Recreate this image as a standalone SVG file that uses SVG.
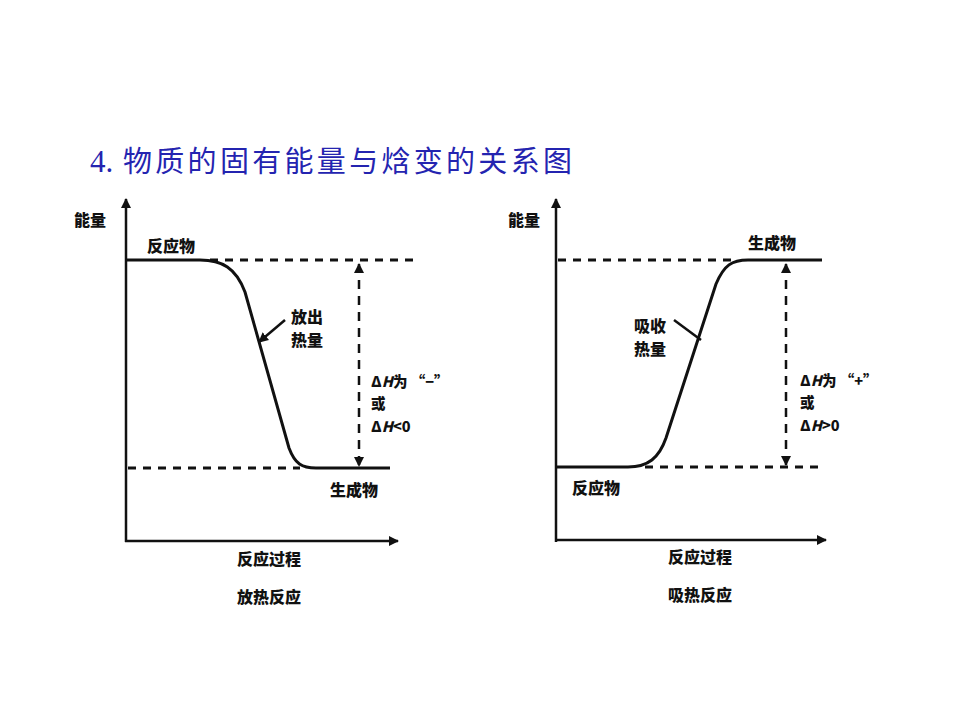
<svg xmlns="http://www.w3.org/2000/svg" width="960" height="720" viewBox="0 0 960 720">
<defs>
<style>
.lbl{font-family:"Noto Sans CJK SC","Liberation Sans",sans-serif;font-size:16px;font-weight:900;fill:#111}
.dh{font-size:14.5px}
.it{font-style:italic}
.ax{stroke:#111;stroke-width:2.5;fill:none}
.cv{stroke:#111;stroke-width:3;fill:none}
.ds{stroke:#111;stroke-width:3;fill:none;stroke-dasharray:8 7}
.vd{stroke:#111;stroke-width:2.5;fill:none;stroke-dasharray:9 7}
.ptr{stroke:#111;stroke-width:2.5;fill:none}
</style>
<marker id="ah" viewBox="0 0 10 10" refX="9" refY="5" markerWidth="4" markerHeight="4" orient="auto-start-reverse">
<path d="M0,0 L10,5 L0,10 z" fill="#111"/>
</marker>
</defs>
<rect width="960" height="720" fill="#fff"/>
<g id="title">
<text x="90" y="172" font-family="Liberation Serif,serif" font-size="31" fill="#2424b0">4.</text>
<text x="123" y="172" font-family="'Noto Sans CJK SC',serif" font-size="29" textLength="449" lengthAdjust="spacing" fill="#2424b0">物质的固有能量与焓变的关系图</text>
</g>
<g id="connectors">
<!-- left chart -->
<path class="ax" d="M126,542 V199" marker-end="url(#ah)"/>
<path class="ax" d="M125,541 H398" marker-end="url(#ah)"/>
<path class="ds" d="M210,260 H420"/>
<path class="ds" d="M128,468 H300"/>
<path class="cv" d="M126,260 H200 C222,260 236,268 245,292 L289,448 C295,464 302,468 316,468 H390"/>
<path class="vd" d="M359,264 V466" marker-start="url(#ah)" marker-end="url(#ah)"/>
<path class="ptr" d="M285,320 L259,342" marker-end="url(#ah)"/>
<!-- right chart -->
<path class="ax" d="M556,542 V199" marker-end="url(#ah)"/>
<path class="ax" d="M555,540 H826" marker-end="url(#ah)"/>
<path class="ds" d="M558,260 H735"/>
<path class="ds" d="M645,467 H822"/>
<path class="cv" d="M556,467 H628 C648,467 659,458 666,438 L716,284 C724,265 732,260 748,260 H822"/>
<path class="vd" d="M786,264 V465" marker-start="url(#ah)" marker-end="url(#ah)"/>
<path class="ptr" d="M674,320 L701,340"/>
</g>
<g id="left-chart">
<text class="lbl" x="74" y="226">能量</text>
<text class="lbl" x="147" y="252">反应物</text>
<text class="lbl" x="291" y="323">放出</text>
<text class="lbl" x="291" y="346">热量</text>
<text class="lbl dh" x="371" y="387">Δ<tspan class="it">H</tspan>为 “−”</text>
<text class="lbl dh" x="371" y="409">或</text>
<text class="lbl dh" x="371" y="432">Δ<tspan class="it">H</tspan>&lt;0</text>
<text class="lbl" x="330" y="496">生成物</text>
<text class="lbl" x="237" y="565">反应过程</text>
<text class="lbl" x="237" y="603">放热反应</text>
</g>
<g id="right-chart">
<text class="lbl" x="508" y="226">能量</text>
<text class="lbl" x="748" y="249">生成物</text>
<text class="lbl" x="634" y="332">吸收</text>
<text class="lbl" x="634" y="355">热量</text>
<text class="lbl dh" x="800" y="386">Δ<tspan class="it">H</tspan>为 “+”</text>
<text class="lbl dh" x="800" y="408">或</text>
<text class="lbl dh" x="800" y="431">Δ<tspan class="it">H</tspan>&gt;0</text>
<text class="lbl" x="572" y="494">反应物</text>
<text class="lbl" x="668" y="563">反应过程</text>
<text class="lbl" x="668" y="601">吸热反应</text>
</g>
</svg>
